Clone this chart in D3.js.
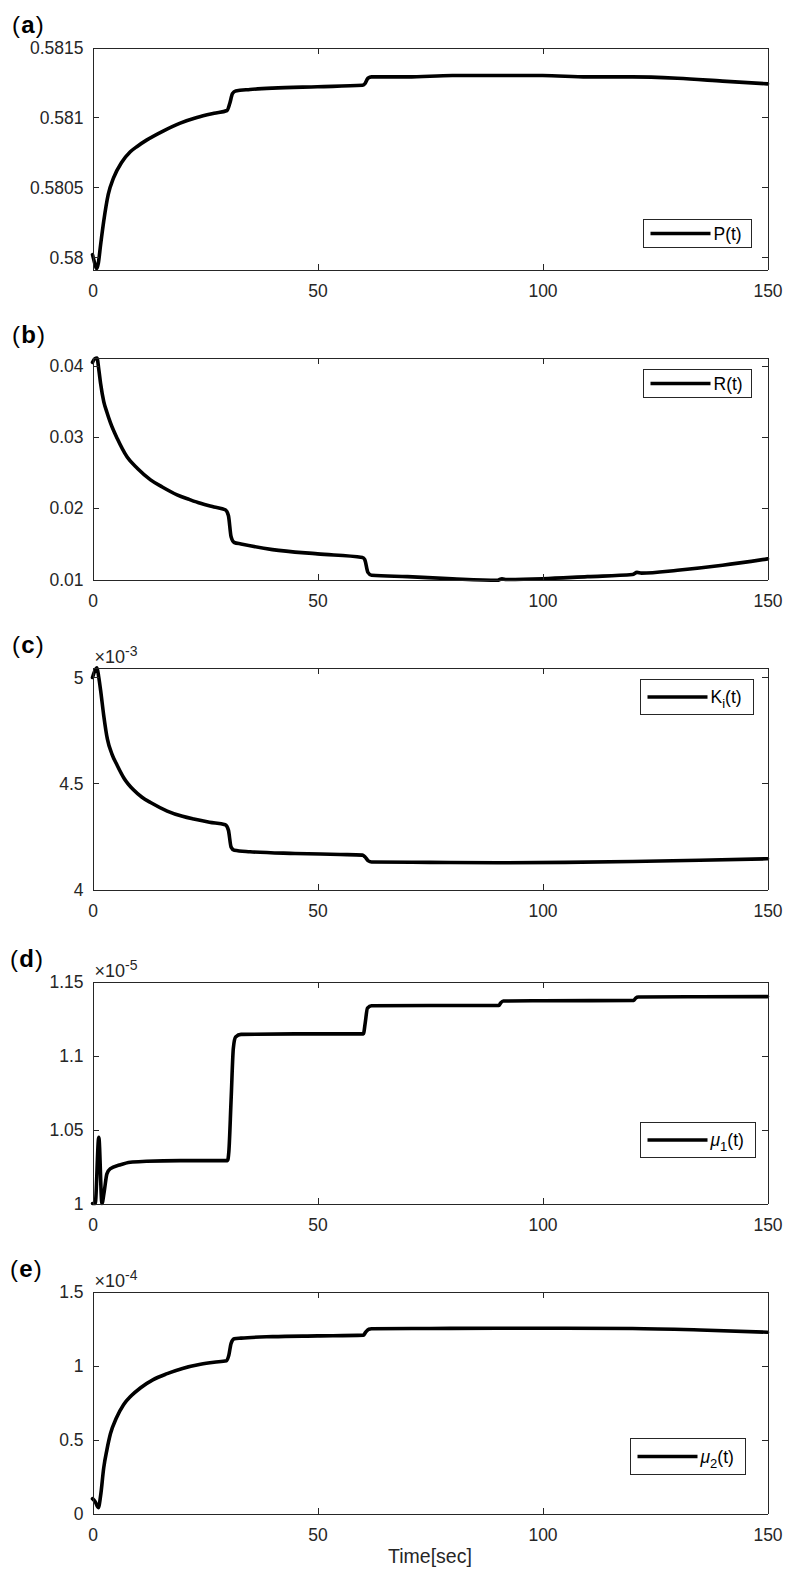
<!DOCTYPE html>
<html>
<head>
<meta charset="utf-8">
<script src="https://cdn.jsdelivr.net/npm/d3@7"></script>
<style>
  html, body { margin: 0; padding: 0; background: #fff; }
  svg { display: block; font-family: "Liberation Sans", Arial, Helvetica, sans-serif; }
</style>
</head>
<body>
<svg id="fig" width="785" height="1575"></svg>
<script>
// ---- data -------------------------------------------------------------
const timeTicks = [0, 50, 100, 150];

// (a) P(t)
const pTime   = [0, 0.4, 0.9, 1.3, 1.8, 2.5, 3.5, 4.7, 6.5, 8.4, 10, 12.1, 15.8, 19.5, 23.2, 27, 29.9, 30.5, 31.1, 31.8, 35, 40, 50, 60, 60.5, 61.2, 62, 70, 80, 90, 100, 110, 120, 130, 140, 150];
const pValues = [0.58002, 0.57997, 0.57992, 0.57996, 0.58009, 0.58026, 0.58045, 0.58057, 0.58068, 0.580755, 0.580795, 0.58084, 0.580905, 0.58096, 0.58100, 0.58103, 0.58105, 0.58110, 0.58117, 0.58119, 0.58120, 0.58121, 0.58122, 0.58123, 0.58124, 0.58128, 0.58129, 0.58129, 0.58130, 0.58130, 0.58130, 0.58129, 0.58129, 0.58128, 0.58126, 0.58124];
const pTicks = [0.58, 0.5805, 0.581, 0.5815];
const pTickLabels = ["0.58", "0.5805", "0.581", "0.5815"];

// (b) R(t)
const rTime   = [0, 0.5, 1.0, 1.4, 1.8, 2.5, 3.2, 4, 5.5, 7.7, 10, 12.9, 15.5, 18.8, 21.5, 24, 27, 29.5, 30.2, 30.8, 31.5, 33, 40, 50, 60, 60.5, 61.2, 62, 70, 80, 90, 91, 92, 100, 110, 120, 121, 122, 130, 140, 150];
const rValues = [0.0405, 0.0410, 0.0411, 0.0395, 0.03755, 0.0350, 0.0335, 0.0320, 0.0298, 0.0272, 0.0256, 0.0240, 0.0230, 0.0219, 0.02125, 0.0207, 0.0202, 0.0198, 0.0190, 0.0160, 0.0152, 0.0150, 0.0142, 0.0136, 0.0131, 0.0128, 0.0110, 0.0106, 0.0104, 0.0101, 0.0099, 0.0101, 0.0100, 0.0101, 0.0104, 0.0107, 0.0110, 0.0109, 0.0113, 0.0120, 0.0129];
const rTicks = [0.01, 0.02, 0.03, 0.04];
const rTickLabels = ["0.01", "0.02", "0.03", "0.04"];

// (c) Ki(t), in units of 1e-3
const kTime   = [0, 0.5, 1.0, 1.4, 1.8, 2.5, 3.3, 4.3, 5.5, 7, 9.1, 11, 12.9, 16.6, 20, 22.5, 26, 29.5, 30.2, 30.8, 31.5, 35, 45, 55, 60, 60.5, 61.3, 62, 75, 90, 105, 120, 135, 150];
const kValues = [5.00, 5.03, 5.045, 5.00, 4.94, 4.82, 4.71, 4.64, 4.585, 4.525, 4.47, 4.435, 4.41, 4.37, 4.345, 4.332, 4.317, 4.305, 4.28, 4.20, 4.185, 4.178, 4.170, 4.165, 4.162, 4.155, 4.135, 4.13, 4.128, 4.126, 4.128, 4.132, 4.138, 4.145];
const kTicks = [4, 4.5, 5];
const kTickLabels = ["4", "4.5", "5"];

// (d) mu1(t), in units of 1e-5
const m1Time   = [0, 0.6, 1.4, 2.1, 2.6, 3.2, 4, 6, 8.4, 12, 19.5, 30, 30.3, 30.8, 31.3, 31.8, 33, 45, 60.2, 60.6, 61.1, 62, 75, 90.3, 90.7, 91.3, 100, 120.3, 120.7, 121.3, 135, 150];
const m1Values = [1.000, 1.000, 1.0448, 1.000, 1.008, 1.020, 1.0236, 1.026, 1.0279, 1.0285, 1.029, 1.029, 1.035, 1.07, 1.105, 1.1125, 1.1143, 1.1146, 1.1146, 1.122, 1.132, 1.1336, 1.1338, 1.1338, 1.1355, 1.1368, 1.137, 1.1372, 1.1388, 1.1395, 1.1397, 1.1398];
const m1Ticks = [1, 1.05, 1.1, 1.15];
const m1TickLabels = ["1", "1.05", "1.1", "1.15"];

// (e) mu2(t), in units of 1e-4
const m2Time   = [0, 0.6, 1.3, 1.8, 2.5, 3.2, 4, 5.3, 6.9, 8.6, 10.7, 13.5, 16.6, 20, 24, 27, 29.8, 30.3, 30.8, 31.5, 33, 40, 50, 60.2, 60.7, 61.4, 62, 75, 90, 105, 120, 135, 150];
const m2Values = [0.10, 0.08, 0.04, 0.12, 0.31, 0.43, 0.54, 0.645, 0.735, 0.795, 0.85, 0.905, 0.945, 0.98, 1.008, 1.022, 1.032, 1.07, 1.15, 1.18, 1.185, 1.195, 1.20, 1.205, 1.225, 1.245, 1.248, 1.25, 1.252, 1.252, 1.25, 1.24, 1.225];
const m2Ticks = [0, 0.5, 1, 1.5];
const m2TickLabels = ["0", "0.5", "1", "1.5"];

const xLabel = "Time[sec]";

// ---- layout -----------------------------------------------------------
const svg = d3.select("#fig");
const left = 92.5, right = 767.5, plotH = 222;
const axisColor = "#262626";
const fontSize = 17.5;
const fontFamily = '"Liberation Sans", Arial, Helvetica, sans-serif';

const x = d3.scaleLinear().domain([0, 150]).range([left, right]);

const panels = [
  { letter: "a", time: pTime, values: pValues, domain: [0.579914, 0.5815], ticks: pTicks, labels: pTickLabels, exp: null,
    legend: [{ t: "P(t)" }], top: 47.5, box: { x: 643.5, y: 219.5, w: 108, h: 28 } },
  { letter: "b", time: rTime, values: rValues, domain: [0.01, 0.04119], ticks: rTicks, labels: rTickLabels, exp: null,
    legend: [{ t: "R(t)" }], top: 357.5, box: { x: 643.5, y: 369.5, w: 108, h: 28 } },
  { letter: "c", time: kTime, values: kValues, domain: [4, 5.047], ticks: kTicks, labels: kTickLabels, exp: "-3",
    legend: [{ t: "K" }, { t: "i", sub: true }, { t: "(t)" }], top: 667.5, box: { x: 640.5, y: 679.5, w: 113, h: 35 } },
  { letter: "d", time: m1Time, values: m1Values, domain: [1, 1.15], ticks: m1Ticks, labels: m1TickLabels, exp: "-5",
    legend: [{ t: "\u03bc", it: true }, { t: "1", sub: true }, { t: "(t)" }], top: 981.5, box: { x: 640.5, y: 1122.5, w: 115, h: 35 } },
  { letter: "e", time: m2Time, values: m2Values, domain: [0, 1.5], ticks: m2Ticks, labels: m2TickLabels, exp: "-4",
    legend: [{ t: "\u03bc", it: true }, { t: "2", sub: true }, { t: "(t)" }], top: 1291.5, box: { x: 630.5, y: 1438.5, w: 115, h: 36 } }
];

panels.forEach(p => {
  const top = p.top, bottom = top + plotH;
  const y = d3.scaleLinear().domain(p.domain).range([bottom, top]);
  const g = svg.append("g");

  // white plot area
  g.append("rect").attr("x", left).attr("y", top).attr("width", right - left).attr("height", plotH).attr("fill", "#fff");

  // data curve
  const pts = p.time.map((t, i) => [t, p.values[i]]);
  const clipId = "clip-" + p.letter;
  svg.append("clipPath").attr("id", clipId).append("rect")
    .attr("x", left - 3).attr("y", top - 3).attr("width", right - left + 6).attr("height", plotH + 6);
  g.append("path")
    .datum(pts)
    .attr("clip-path", `url(#${clipId})`)
    .attr("fill", "none")
    .attr("stroke", "#000")
    .attr("stroke-width", 3.6)
    .attr("stroke-linejoin", "round")
    .attr("stroke-linecap", "round")
    .attr("d", d3.line().x(d => x(d[0])).y(d => y(d[1])).curve(d3.curveMonotoneX));

  // axes: box with inward ticks on all four sides
  const styleAxis = sel => {
    sel.selectAll(".domain").attr("stroke", axisColor).attr("shape-rendering", "crispEdges");
    sel.selectAll(".tick line").attr("stroke", axisColor).attr("shape-rendering", "crispEdges");
    sel.selectAll(".tick text").attr("fill", axisColor).attr("font-size", fontSize).attr("font-family", fontFamily);
  };
  g.append("g").attr("transform", `translate(0,${bottom})`)
    .call(d3.axisBottom(x).tickValues(timeTicks).tickSize(-6).tickSizeOuter(0).tickPadding(15).tickFormat(d3.format("d")))
    .call(styleAxis);
  g.append("g").attr("transform", `translate(0,${top})`)
    .call(d3.axisTop(x).tickValues(timeTicks).tickSize(-6).tickSizeOuter(0).tickFormat(""))
    .call(styleAxis);
  g.append("g").attr("transform", `translate(${left},0)`)
    .call(d3.axisLeft(y).tickValues(p.ticks).tickSize(-6).tickSizeOuter(0).tickPadding(9).tickFormat((d, i) => p.labels[i]))
    .call(styleAxis);
  g.append("g").attr("transform", `translate(${right},0)`)
    .call(d3.axisRight(y).tickValues(p.ticks).tickSize(-6).tickSizeOuter(0).tickFormat(""))
    .call(styleAxis);

  // exponent multiplier
  if (p.exp) {
    const t = g.append("text").attr("x", left + 2).attr("y", top - 5)
      .attr("fill", axisColor).attr("font-size", 18);
    t.append("tspan").text("\u00d710");
    t.append("tspan").attr("dy", -7).attr("font-size", 14).text(p.exp);
  }

  // panel letter
  const lt = g.append("text").attr("x", p.letter === "d" || p.letter === "e" ? 10 : 12).attr("y", top - 15)
    .attr("font-size", 24).attr("letter-spacing", 1.2).attr("fill", "#000");
  lt.append("tspan").text("(");
  lt.append("tspan").attr("font-weight", "bold").text(p.letter);
  lt.append("tspan").text(")");

  // legend
  const b = p.box;
  g.append("rect").attr("x", b.x).attr("y", b.y).attr("width", b.w).attr("height", b.h)
    .attr("fill", "#fff").attr("stroke", axisColor).attr("stroke-width", 1).attr("shape-rendering", "crispEdges");
  const ly = b.y + b.h / 2;
  g.append("line").attr("x1", b.x + 7).attr("x2", b.x + 67).attr("y1", ly).attr("y2", ly)
    .attr("stroke", "#000").attr("stroke-width", 3.6);
  const lx = g.append("text").attr("x", b.x + 70).attr("y", ly + 6)
    .attr("font-size", 17.5).attr("fill", "#000");
  p.legend.forEach((part, i) => {
    const s = lx.append("tspan").text(part.t);
    if (part.it) s.attr("font-style", "italic");
    if (part.sub) {
      s.attr("dy", 5).attr("font-size", 13);
    } else if (i > 0 && p.legend[i - 1].sub) {
      s.attr("dy", -5);
    }
  });
});

// x-axis title under the last panel
svg.append("text").attr("x", (left + right) / 2).attr("y", 1563)
  .attr("text-anchor", "middle").attr("font-size", 19.5).attr("fill", axisColor).text(xLabel);
</script>
</body>
</html>
